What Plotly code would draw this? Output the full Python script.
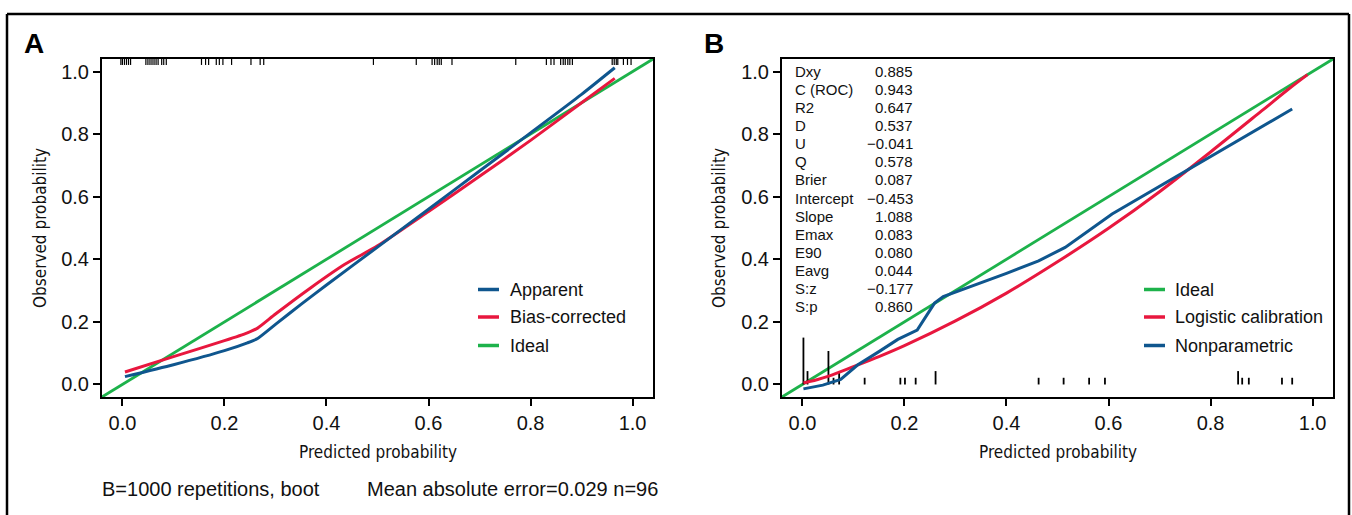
import plotly.graph_objects as go

W, H = 1352, 515

# ---------------- data ----------------
tick_vals = [0.0, 0.2, 0.4, 0.6, 0.8, 1.0]
tick_text = ["0.0", "0.2", "0.4", "0.6", "0.8", "1.0"]
ideal_xy = [-0.1, 1.1]

# Panel A: bootstrap calibration
a_app_x = [0.005, 0.1, 0.2, 0.245, 0.265, 0.3, 0.35, 0.4, 0.5, 0.6, 0.7, 0.8, 0.9, 0.965]
a_app_y = [0.025, 0.063, 0.108, 0.133, 0.147, 0.192, 0.256, 0.318, 0.439, 0.560, 0.682, 0.804, 0.927, 1.012]
a_bc_x = [0.005, 0.1, 0.2, 0.245, 0.265, 0.3, 0.37, 0.436, 0.5, 0.6, 0.7, 0.8, 0.9, 0.965]
a_bc_y = [0.040, 0.089, 0.140, 0.165, 0.180, 0.225, 0.310, 0.384, 0.443, 0.553, 0.665, 0.780, 0.900, 0.978]
a_rug = [-0.003, 0.0, 0.004, 0.008, 0.012, 0.016,
         0.046, 0.050, 0.054, 0.058, 0.062, 0.066, 0.070, 0.077, 0.081, 0.086,
         0.155, 0.163, 0.169, 0.184, 0.190, 0.197, 0.214, 0.252, 0.270, 0.277,
         0.492, 0.576, 0.607, 0.612, 0.617, 0.621, 0.625, 0.646, 0.771,
         0.831, 0.840, 0.846, 0.859, 0.864, 0.868, 0.873, 0.877, 0.882,
         0.960, 0.964, 0.968, 0.971, 0.982, 0.990, 0.997]

# Panel B: validation
b_log_x = [0.002, 0.01, 0.03, 0.05, 0.1, 0.15, 0.2, 0.3, 0.4, 0.5, 0.6, 0.7, 0.8, 0.9, 0.95, 0.99]
b_log_y = [0.005, 0.008, 0.016, 0.026, 0.057, 0.089, 0.124, 0.203, 0.292, 0.392, 0.499, 0.616, 0.743, 0.874, 0.940, 0.990]
b_np_x = [0.002, 0.04, 0.075, 0.108, 0.15, 0.187, 0.225, 0.259, 0.276, 0.318, 0.4, 0.463, 0.515, 0.607, 0.7, 0.8, 0.9, 0.96]
b_np_y = [-0.014, -0.002, 0.016, 0.062, 0.105, 0.144, 0.174, 0.260, 0.281, 0.306, 0.355, 0.395, 0.438, 0.545, 0.633, 0.728, 0.823, 0.880]
b_spike_x = [0.002, 0.010, 0.051, 0.061, 0.072, 0.122, 0.192, 0.201, 0.222, 0.261,
             0.463, 0.512, 0.562, 0.593, 0.854, 0.862, 0.875, 0.940, 0.960]
b_spike_n = [7, 2, 5, 1, 2, 1, 1, 1, 1, 2, 1, 1, 1, 1, 2, 1, 1, 1, 1]
stat_names = ["Dxy", "C (ROC)", "R2", "D", "U", "Q", "Brier", "Intercept",
              "Slope", "Emax", "E90", "Eavg", "S:z", "S:p"]
stat_values = ["0.885", "0.943", "0.647", "0.537", "\u22120.041", "0.578", "0.087",
               "\u22120.453", "1.088", "0.083", "0.080", "0.044", "\u22120.177", "0.860"]

legend_a = ["Apparent", "Bias-corrected", "Ideal"]
legend_b = ["Ideal", "Logistic calibration", "Nonparametric"]
footer_left = "B=1000 repetitions, boot"
footer_right = "Mean absolute error=0.029 n=96"

# ---------------- style ----------------
BLUE = "#0F568E"
RED = "#E8173E"
GREEN = "#1DB24B"
FONT = "Liberation Sans, Arial, Helvetica, sans-serif"
NARROW = "DejaVu Sans Condensed, Liberation Sans Narrow, sans-serif"
RNG = [-0.04, 1.04]
RUG_LEN = 0.019
SPIKE_UNIT = 0.0214


def px(x):
    return x / W


def py(y):
    return 1 - y / H


fig = go.Figure()

# Panel A traces
fig.add_trace(go.Scatter(x=ideal_xy, y=ideal_xy, mode="lines", line=dict(color=GREEN, width=2.8),
                         xaxis="x", yaxis="y", showlegend=False))
fig.add_trace(go.Scatter(x=a_bc_x, y=a_bc_y, mode="lines", line=dict(color=RED, width=3, shape="spline", smoothing=0.6),
                         xaxis="x", yaxis="y", showlegend=False))
fig.add_trace(go.Scatter(x=a_app_x, y=a_app_y, mode="lines", line=dict(color=BLUE, width=3, shape="spline", smoothing=0.6),
                         xaxis="x", yaxis="y", showlegend=False))
rx, ry = [], []
for v in a_rug:
    rx += [v, v, None]
    ry += [RNG[1], RNG[1] - RUG_LEN, None]
fig.add_trace(go.Scatter(x=rx, y=ry, mode="lines", line=dict(color="black", width=1.2),
                         xaxis="x", yaxis="y", showlegend=False))

# Panel B traces
fig.add_trace(go.Scatter(x=ideal_xy, y=ideal_xy, mode="lines", line=dict(color=GREEN, width=2.8),
                         xaxis="x2", yaxis="y2", showlegend=False))
sx, sy = [], []
for v, n in zip(b_spike_x, b_spike_n):
    sx += [v, v, None]
    sy += [0, n * SPIKE_UNIT, None]
fig.add_trace(go.Scatter(x=sx, y=sy, mode="lines", line=dict(color="black", width=1.8),
                         xaxis="x2", yaxis="y2", showlegend=False))
fig.add_trace(go.Scatter(x=b_log_x, y=b_log_y, mode="lines", line=dict(color=RED, width=3, shape="spline"),
                         xaxis="x2", yaxis="y2", showlegend=False))
fig.add_trace(go.Scatter(x=b_np_x, y=b_np_y, mode="lines", line=dict(color=BLUE, width=3),
                         xaxis="x2", yaxis="y2", showlegend=False))

axis_common = dict(range=RNG, tickvals=tick_vals, ticktext=tick_text, ticks="outside", ticklen=7,
                   tickwidth=1.5, tickcolor="black", showline=True, linewidth=2, linecolor="black",
                   mirror=True, showgrid=False, zeroline=False,
                   tickfont=dict(family=FONT, size=20, color="#111"))

fig.update_layout(
    width=W, height=H, margin=dict(l=0, r=0, t=0, b=0),
    paper_bgcolor="white", plot_bgcolor="white", showlegend=False,
    xaxis=dict(domain=[px(102), px(653)], anchor="y", **axis_common),
    yaxis=dict(domain=[py(397), py(59)], anchor="x", **axis_common),
    xaxis2=dict(domain=[px(782), px(1333)], anchor="y2", **axis_common),
    yaxis2=dict(domain=[py(397), py(59)], anchor="x2", **axis_common),
)

shapes = []
ann = []
# outer frame
for (x0, y0, x1, y1) in [(7, 14, 1349, 14), (7, 14, 7, 520), (1349, 14, 1349, 520)]:
    shapes.append(dict(type="line", xref="paper", yref="paper", x0=px(x0), y0=py(y0), x1=px(x1), y1=py(y1),
                       line=dict(color="black", width=2.5)))

# panel letters
ann.append(dict(text="<b>A</b>", x=px(34), y=py(43), xref="paper", yref="paper", showarrow=False,
                font=dict(family=FONT, size=28, color="black"), xanchor="center", yanchor="middle"))
ann.append(dict(text="<b>B</b>", x=px(714), y=py(43), xref="paper", yref="paper", showarrow=False,
                font=dict(family=FONT, size=28, color="black"), xanchor="center", yanchor="middle"))

# axis titles
for cx, ycx in [(377.5, 40), (1057.5, 719)]:
    ann.append(dict(text="Predicted probability", x=px(cx), y=py(452), xref="paper", yref="paper",
                    showarrow=False, font=dict(family=NARROW, size=17, color="#111"),
                    xanchor="center", yanchor="middle"))
    ann.append(dict(text="Observed probability", x=px(ycx), y=py(228), xref="paper", yref="paper",
                    showarrow=False, textangle=-90, font=dict(family=NARROW, size=17, color="#111"),
                    xanchor="center", yanchor="middle"))

# footer
ann.append(dict(text=footer_left, x=px(100), y=py(489), xref="paper", yref="paper", showarrow=False,
                font=dict(family=FONT, size=20, color="#111"), xanchor="left", yanchor="middle"))
ann.append(dict(text=footer_right, x=px(365), y=py(489), xref="paper", yref="paper", showarrow=False,
                font=dict(family=FONT, size=20, color="#111"), xanchor="left", yanchor="middle"))

# legends (manual)
rows = [289.5, 317, 345.5]
for name, col, yy in zip(legend_a, [BLUE, RED, GREEN], rows):
    shapes.append(dict(type="line", xref="paper", yref="paper", x0=px(478), x1=px(499), y0=py(yy), y1=py(yy),
                       line=dict(color=col, width=3.5)))
    ann.append(dict(text=name, x=px(508), y=py(yy), xref="paper", yref="paper", showarrow=False,
                    font=dict(family=FONT, size=18, color="#111"), xanchor="left", yanchor="middle"))
for name, col, yy in zip(legend_b, [GREEN, RED, BLUE], rows):
    shapes.append(dict(type="line", xref="paper", yref="paper", x0=px(1144), x1=px(1165), y0=py(yy), y1=py(yy),
                       line=dict(color=col, width=3.5)))
    ann.append(dict(text=name, x=px(1173), y=py(yy), xref="paper", yref="paper", showarrow=False,
                    font=dict(family=FONT, size=18, color="#111"), xanchor="left", yanchor="middle"))

# stats block
for i, (nm, val) in enumerate(zip(stat_names, stat_values)):
    yy = 71 + 18.15 * i
    ann.append(dict(text=nm, x=px(793), y=py(yy), xref="paper", yref="paper", showarrow=False,
                    font=dict(family=FONT, size=15, color="#111"), xanchor="left", yanchor="middle"))
    ann.append(dict(text=val, x=px(915), y=py(yy), xref="paper", yref="paper", showarrow=False,
                    font=dict(family=FONT, size=15, color="#111"), xanchor="right", yanchor="middle"))

fig.update_layout(shapes=shapes, annotations=ann)
fig.write_html("out.html", config={"displayModeBar": False},
               post_script="document.body.style.margin='0';document.documentElement.style.overflow='hidden';")
